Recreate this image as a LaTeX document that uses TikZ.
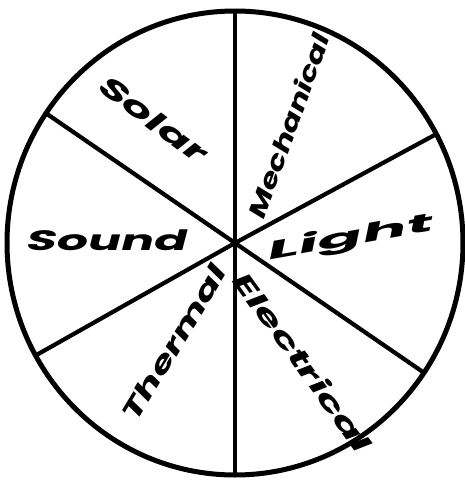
\documentclass[tikz,border=0pt]{standalone}
\usepackage{fontspec}
\usepackage{graphicx}
\newfontfamily\energyfont{Poppins}[FakeSlant=0.15]
\usetikzlibrary{calc}

% widen a label along its own baseline
\newcommand{\widelabel}[2]{\scalebox{#1}[1]{#2}}

\tikzset{
    wedgelabel/.style={font=\energyfont\bfseries\fontsize{#1}{#1}\selectfont, inner sep=0pt},
    wedgelabel/.default=27,
    spoke/.style={line width=4.2pt},
}

\begin{document}
\begin{tikzpicture}[x=1pt, y=-1pt]
    % =========================================================
    % FRAME & WHEEL
    % =========================================================
    \useasboundingbox (0,0) rectangle (464,480);
    \coordinate (hub) at (235,243);
    \draw[line width=5pt] (hub) ellipse [x radius=228pt, y radius=232pt];

    % Spokes out to the rim
    \foreach \ang in {90,146,209,270,326,28} {
        \draw[spoke] (hub) -- ($(hub)+(\ang:228pt and 232pt)$);
    }

    % =========================================================
    % ENERGY LABELS
    % =========================================================
    \node[wedgelabel=28, rotate=-37] (solar) at (152,118) {\widelabel{1.7}{Solar}};
    \node[wedgelabel=24, rotate=70] (mech) at (288,127) {\widelabel{1.34}{Mechanical}};
    \node[wedgelabel=28] (sound) at (105,240) {\widelabel{1.75}{Sound}};
    \node[wedgelabel=25, rotate=10] (light) at (348,239) {\widelabel{2.65}{Light}};
    \node[wedgelabel=26, rotate=59] (thermal) at (173,344) {\widelabel{1.57}{Thermal}};
    \node[wedgelabel=26, rotate=-54] (elec) at (302,360) {\widelabel{1.73}{Electrical}};
\end{tikzpicture}
\end{document}
